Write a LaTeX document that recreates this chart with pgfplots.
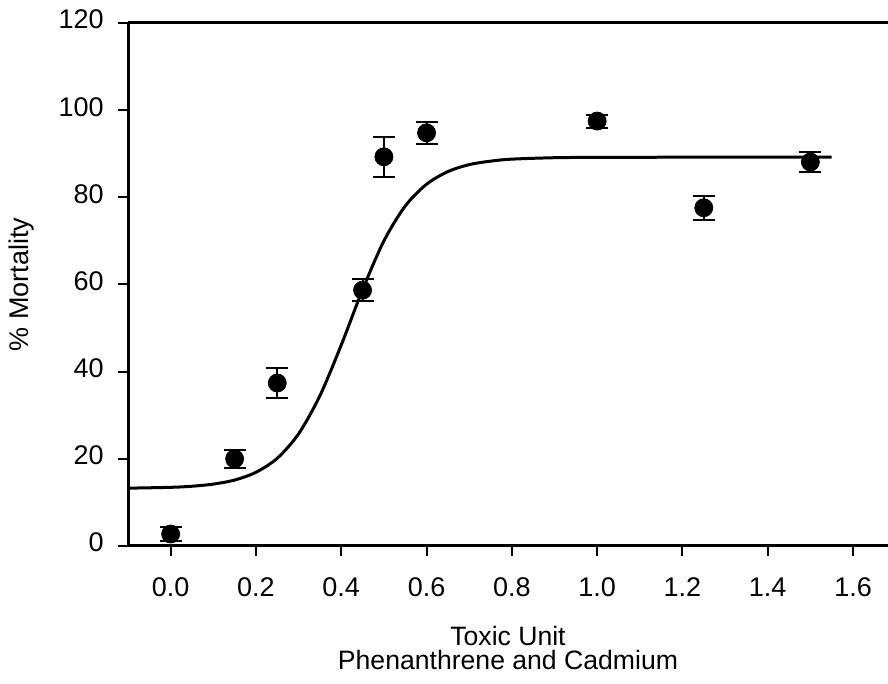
\documentclass[border=0pt]{standalone}
\usepackage{pgfplots}
\pgfplotsset{compat=1.18}
\usepackage{fontspec}
\setmainfont{Liberation Sans}
\begin{document}
\fontsize{13.5}{15}\selectfont
\begin{tikzpicture}
\begin{axis}[
  at={(64pt,69pt)}, anchor=south west,
  scale only axis, width=380pt, height=261.5pt,
  xmin=-0.1, xmax=1.682, ymin=0, ymax=120,
  axis x line=box, axis y line=left,
  every outer x axis line/.append style={-, line width=1.5pt},
  every outer y axis line/.append style={-, line width=1.5pt},
  xtick={0,0.2,0.4,0.6,0.8,1.0,1.2,1.4,1.6},
  xticklabels={0.0,0.2,0.4,0.6,0.8,1.0,1.2,1.4,1.6},
  ytick={0,20,40,60,80,100,120},
  yticklabels={0,20,40,60,80,100,120},
  typeset ticklabels with strut,
  xtick pos=lower, ytick pos=left,
  tick align=outside, major tick length=5pt,
  tick style={line width=1pt, black},
  ticklabel style={font=\fontsize{13.5}{15}\selectfont},
  xticklabel style={yshift=-5pt},
  yticklabel style={xshift=-2.5pt},
  xlabel={Toxic Unit\\Phenanthrene and Cadmium},
  xlabel style={align=center, font=\fontsize{13.3}{12}\selectfont, at={(axis description cs:0.5,-0.195)}, anchor=center},
  ylabel={\% Mortality},
  ylabel style={font=\fontsize{13.5}{15}\selectfont, at={(axis description cs:-0.14,0.5)}, anchor=center},
  clip=false,
]
\addplot[black, line width=1.5pt, smooth] coordinates {
 (-0.1,13.27) (0.0,13.46) (0.05,13.71) (0.1,14.20) (0.15,15.13) (0.2,16.91)
 (0.25,20.13) (0.3,25.74) (0.35,34.48) (0.4,46.11) (0.45,58.8) (0.5,70.0)
 (0.55,78.0) (0.6,83.0) (0.65,85.9) (0.7,87.5) (0.75,88.3) (0.8,88.76)
 (0.9,89.09) (1.0,89.17) (1.2,89.2) (1.55,89.2)
};
\addplot[black, only marks, mark=*, mark size=4.5pt,
  error bars/.cd, y dir=both, y explicit,
  error bar style={line width=1pt, black},
  error mark options={rotate=90, mark size=5.5pt, line width=1pt, black}]
 coordinates {
 (0.0,2.75) +- (0,1.5)
 (0.15,20.0) +- (0,2.0)
 (0.25,37.4) +- (0,3.4)
 (0.45,58.7) +- (0,2.5)
 (0.5,89.3) +- (0,4.6)
 (0.6,94.8) +- (0,2.5)
 (1.0,97.5) +- (0,1.5)
 (1.25,77.6) +- (0,2.7)
 (1.5,88.1) +- (0,2.4)
};
\end{axis}
\pgfresetboundingbox
\useasboundingbox (0,0) rectangle (444pt,342pt);
\end{tikzpicture}
\end{document}
